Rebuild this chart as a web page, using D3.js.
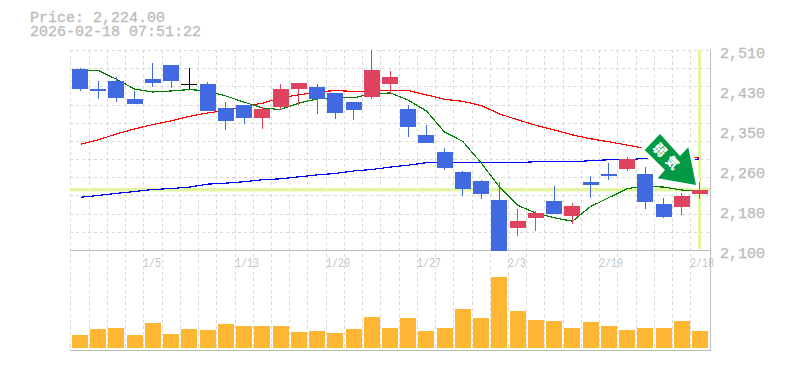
<!DOCTYPE html>
<html>
<head>
<meta charset="utf-8">
<script src="https://cdn.jsdelivr.net/npm/d3@7/dist/d3.min.js"></script>
<style>
html,body{margin:0;padding:0;background:#fff}
svg{display:block}
text{font-family:"Liberation Mono","DejaVu Sans Mono",monospace;fill:#bbb}
</style>
</head>
<body>
<div id="chart"></div>
<script>
const dates = ["12/25","12/26","12/29","12/30","1/5","1/6","1/7","1/8","1/9","1/13","1/14","1/15","1/16","1/19","1/20","1/21","1/22","1/23","1/26","1/27","1/28","1/29","1/30","2/2","2/3","2/4","2/5","2/6","2/9","2/10","2/12","2/13","2/16","2/17","2/18"];
const opens = [2472,2431,2447,2411,2452,2480,2441,2441,2392,2398,2372,2394,2431,2435,2423,2404,2415,2441,2390,2337,2302,2261,2242,2203,2146,2167,2201,2171,2240,2257,2267,2257,2195,2189,2216];
const closes = [2431,2427,2413,2400,2443,2447,2441,2386,2365,2372,2390,2431,2443,2411,2382,2388,2470,2456,2353,2320,2269,2226,2216,2100,2160,2177,2175,2191,2234,2253,2288,2199,2169,2212,2224];
const highs = [2474,2447,2455,2427,2484,2480,2474,2445,2404,2398,2394,2441,2443,2441,2423,2404,2511,2468,2398,2357,2310,2263,2244,2240,2185,2181,2232,2197,2253,2279,2292,2271,2208,2218,2240];
const lows = [2427,2411,2404,2400,2435,2433,2431,2386,2347,2359,2349,2388,2398,2380,2370,2368,2411,2421,2333,2320,2265,2212,2206,2100,2130,2140,2175,2154,2208,2244,2263,2185,2167,2173,2206];
const volumes = [13000,19000,20000,13000,25000,14000,19000,18000,24000,22000,22000,22000,16000,17000,15000,19000,31000,20000,30000,17000,20000,39000,30000,71000,37000,28000,27000,20000,26000,22000,18000,20000,20000,27000,17000];
const maShort = [2470,2469,2451,2431,2425,2427,2430,2427,2417,2404,2392,2389,2402,2411,2413,2413,2421,2423,2408,2386,2343,2324,2279,2230,2193,2177,2167,2160,2190,2208,2227,2232,2230,2224,2221];
const maMid = [2318,2327,2339,2349,2358,2366,2375,2382,2387,2396,2402,2413,2419,2425,2428,2426,2427,2428,2428,2419,2410,2406,2397,2380,2368,2357,2347,2337,2329,2323,2316,2309,2302,2296,2289];
const maLong = [2209,2213,2217,2221,2225,2227,2230,2236,2238,2241,2245,2247,2251,2255,2258,2263,2266,2271,2275,2280,2280,2280,2280,2280,2280,2282,2282,2282,2284,2286,2286,2289,2289,2288,2287];
const priceTicks = [2510,2428,2346,2264,2182,2100];
const dateTicks = ["1/5","1/13","1/20","1/27","2/3","2/10","2/18"];
const lastPrice = 2224;
const titleLines = ["Price: 2,224.00","2026-02-18 07:51:22"];
const arrowWords = ["弱","気"];

const W = 785, H = 370;
const svg = d3.select("#chart").append("svg").attr("width", W).attr("height", H);

const x = d3.scaleBand().domain(dates).range([70.9, 709.1]).paddingInner(0.1226).paddingOuter(0.0613);
const y = d3.scaleLinear().domain([2100, 2510]).range([250.5, 50.5]);
const v = d3.scaleLinear().domain([0, 100000]).range([348, 248]);
const cx = d => Math.floor(x(d) + x.bandwidth() / 2) + 0.5;
const stepLeft = d => Math.floor(x(d) - (x.step() - x.bandwidth()) / 2) + 0.5;
const arrowPath = "M660 134 L644.7 150 L665 170 L657.7 178.3 L696 185 L688.3 147.3 L680 156 Z";

// grid
const grid = svg.append("g").attr("stroke", "#d8d8d8").attr("stroke-dasharray", "3,3").attr("shape-rendering", "crispEdges");
const gridPrices = d3.range(12).map(i => 2100 + (2510 - 2100) * i / 11);
grid.selectAll("line.h").data(gridPrices).join("line").attr("class", "h")
  .attr("x1", 70).attr("x2", 710)
  .attr("y1", d => Math.floor(y(d)) + 0.5).attr("y2", d => Math.floor(y(d)) + 0.5);
grid.selectAll("line.v").data(dates).join("line").attr("class", "v")
  .attr("x1", stepLeft).attr("x2", stepLeft).attr("y1", 50).attr("y2", 350);

// axes frame
const frame = svg.append("g").attr("stroke", "#bbb").attr("shape-rendering", "crispEdges");
frame.append("line").attr("x1", 70).attr("x2", 710.5).attr("y1", 250.5).attr("y2", 250.5);
frame.append("line").attr("x1", 70).attr("x2", 710.5).attr("y1", 350.5).attr("y2", 350.5);
frame.append("line").attr("x1", 710.5).attr("x2", 710.5).attr("y1", 50).attr("y2", 350.5);

// current price markers
const lime = "#e3f5a3";
svg.append("rect").attr("x", 70).attr("width", 640).attr("y", Math.round(y(lastPrice)) - 2).attr("height", 3.5).attr("fill", lime);
svg.append("rect").attr("x", cx(dates[dates.length - 1]) - 1.5).attr("width", 3).attr("y", 50).attr("height", 199).attr("fill", lime);

// moving averages
const line = d3.line().x((d, i) => cx(dates[i])).y(d => y(d));
[[maLong, "#0000ff"], [maMid, "#ff0000"], [maShort, "#008000"]].forEach(([s, c]) => {
  svg.append("path").attr("d", line(s)).attr("fill", "none").attr("stroke", c)
    .attr("stroke-width", 1.2).attr("shape-rendering", "crispEdges");
});

// white halo of the arrow badge
svg.append("path").attr("d", arrowPath).attr("fill", "#fff").attr("stroke", "#fff").attr("stroke-width", 8).attr("stroke-linejoin", "round");

// candles
const colorOf = i => closes[i] > opens[i] ? "#e04360" : closes[i] < opens[i] ? "#4169e1" : "#000";
const candles = svg.append("g").attr("shape-rendering", "crispEdges");
dates.forEach((d, i) => {
  const c = colorOf(i);
  candles.append("line").attr("x1", cx(d)).attr("x2", cx(d)).attr("y1", y(highs[i])).attr("y2", y(lows[i])).attr("stroke", c);
  const t = Math.round(y(Math.max(opens[i], closes[i])));
  const b = Math.round(y(Math.min(opens[i], closes[i])));
  candles.append("rect").attr("x", Math.round(x(d))).attr("width", 16)
    .attr("y", t).attr("height", Math.max(1, b - t)).attr("fill", c);
});

// volume
svg.append("g").attr("shape-rendering", "crispEdges").selectAll("rect").data(volumes).join("rect")
  .attr("x", (d, i) => Math.round(x(dates[i]))).attr("width", 16)
  .attr("y", d => v(d)).attr("height", d => v(0) - v(d)).attr("fill", "#ffb733");

// texts
titleLines.forEach((t, i) => {
  svg.append("text").attr("x", 30).attr("y", 22 + i * 14).attr("font-size", 15)
    .attr("stroke", "#bbb").attr("stroke-width", 0.3).text(t);
});
svg.selectAll("text.py").data(priceTicks).join("text").attr("class", "py")
  .attr("x", 720).attr("y", d => y(d) + 7.5).attr("font-size", 15)
  .attr("stroke", "#bbb").attr("stroke-width", 0.3)
  .text(d => d3.format(",")(Math.round(d / 10) * 10));
svg.selectAll("text.dx").data(dateTicks).join("text").attr("class", "dx")
  .attr("x", d => stepLeft(d) - 0.5).attr("y", 267).attr("font-size", 12)
  .attr("textLength", d => d.length * 6).attr("lengthAdjust", "spacingAndGlyphs")
  .style("fill", "#c4c4c4").text(d => d);

// arrow badge
const arrow = svg.append("g");
arrow.append("path").attr("fill", "#009944").attr("d", arrowPath);
[[660, 150], [672.5, 162.5]].forEach(([px, py], i) => {
  arrow.append("text").attr("transform", `translate(${px},${py}) rotate(45)`)
    .attr("text-anchor", "middle").attr("dy", "0.36em")
    .attr("font-size", 13).attr("font-weight", 900)
    .style("font-family", '"Noto Sans CJK JP"').style("fill", "#fff").text(arrowWords[i]);
});
</script>
</body>
</html>
